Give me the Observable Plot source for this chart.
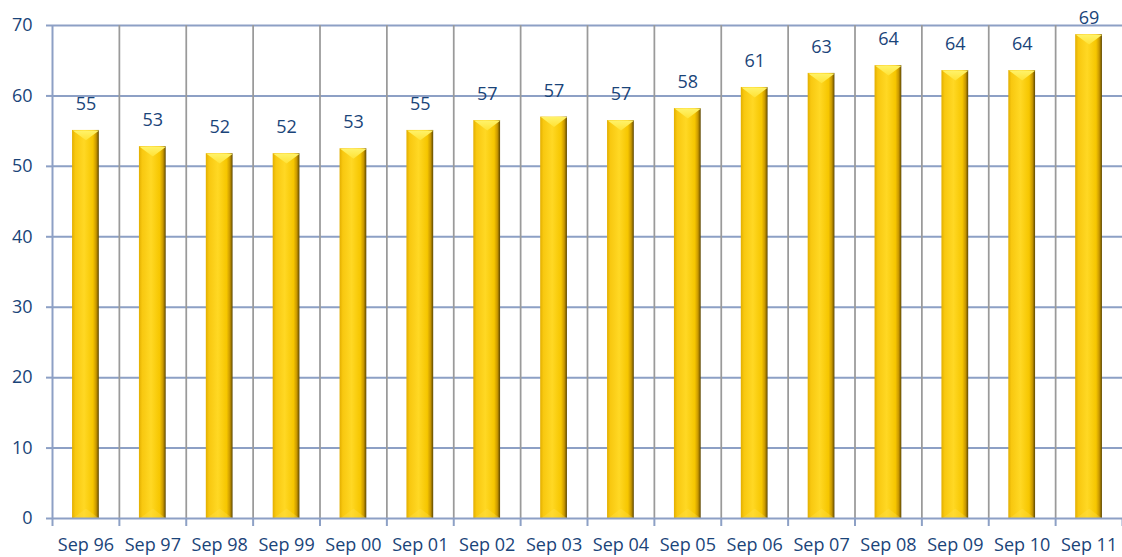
<!DOCTYPE html>
<html>
<head>
<meta charset="utf-8">
<script src="https://cdn.jsdelivr.net/npm/d3@7"></script>
<script src="https://cdn.jsdelivr.net/npm/@observablehq/plot@0.6"></script>
<style>
  html, body { margin: 0; padding: 0; background: #fff; }
</style>
</head>
<body>
<div id="chart"></div>
<script>
const categories = ["Sep 96","Sep 97","Sep 98","Sep 99","Sep 00","Sep 01","Sep 02","Sep 03","Sep 04","Sep 05","Sep 06","Sep 07","Sep 08","Sep 09","Sep 10","Sep 11"];
const values = [55.1, 52.8, 51.8, 51.8, 52.5, 55.1, 56.5, 57.0, 56.5, 58.2, 61.2, 63.2, 64.3, 63.6, 63.6, 68.7];
const yTicks = [0, 10, 20, 30, 40, 50, 60, 70];

const data = categories.map((c, i) => ({c, i, v: values[i]}));
const boundaries = categories.map((c, i) => i).concat([categories.length]);
const centers = categories.map((c, i) => i + 0.5);

const BLUE = "#8DA0C5";
const GRAY = "#9A9A9A";
const TEXT = "#1A4479";

const topBevel = {
  draw(context, size) {
    const h = Math.sqrt(size / Math.PI);
    context.moveTo(-h, 0);
    context.lineTo(h, 0);
    context.lineTo(0, h * 0.75);
    context.closePath();
  }
};
const bottomBevel = {
  draw(context, size) {
    const h = Math.sqrt(size / Math.PI);
    context.moveTo(-h, 0);
    context.lineTo(h, 0);
    context.lineTo(0, -h * 0.75);
    context.closePath();
  }
};

const chart = Plot.plot({
  width: 1122,
  height: 557,
  marginLeft: 52,
  marginRight: 0,
  marginTop: 25,
  marginBottom: 39,
  style: {fontFamily: "Open Sans", fontSize: "18px", background: "white", overflow: "visible"},
  x: {type: "linear", domain: [0, categories.length]},
  y: {domain: [0, 70]},
  marks: [
    Plot.ruleY(yTicks.slice(1), {stroke: BLUE, strokeWidth: 2}),
    Plot.ruleX(boundaries.slice(1, -1), {stroke: GRAY, strokeWidth: 1.75}),
    Plot.axisY({ticks: yTicks, tickSize: 6, tickPadding: 14, stroke: BLUE, strokeWidth: 2, fill: TEXT, fontSize: 18, label: null}),
    Plot.axisX({ticks: boundaries, tickSize: 8, tickFormat: () => "", stroke: BLUE, strokeWidth: 2, label: null}),
    Plot.axisX({ticks: centers, tickSize: 0, tickPadding: 20, tickFormat: d => categories[Math.floor(d)], fill: TEXT, fontSize: 18, label: null}),
    Plot.ruleX([0], {stroke: BLUE, strokeWidth: 2}),
    Plot.rectY(data, {x1: d => d.i + 0.3, x2: d => d.i + 0.7, y1: 0, y2: "v", fill: "url(#goldGrad)"}),
    Plot.dot(data, {x: d => d.i + 0.5, y: "v", symbol: topBevel, r: 13.2, fill: "url(#bevelGrad)", stroke: "none"}),
    Plot.dot(data, {x: d => d.i + 0.5, y: 0, symbol: bottomBevel, r: 13.2, fill: "#FFE04A", fillOpacity: 0.35, stroke: "none"}),
    Plot.ruleY([0], {stroke: BLUE, strokeWidth: 2}),
    Plot.text(data, {x: d => d.i + 0.5, y: d => Math.min(d.v + 3.7, 71), text: d => String(Math.round(d.v)), fill: TEXT, fontSize: 18})
  ]
});

const defs = d3.select(chart).insert("defs", ":first-child");
const g = defs.append("linearGradient").attr("id", "goldGrad").attr("x1", "0").attr("x2", "1").attr("y1", "0").attr("y2", "0");
[[0, "#E2AE00"], [0.12, "#F8C810"], [0.45, "#FFD824"], [0.78, "#F6C600"], [0.9, "#C99800"], [0.97, "#7E6000"], [1, "#5A4400"]]
  .forEach(([o, c]) => g.append("stop").attr("offset", o).attr("stop-color", c));
const b = defs.append("linearGradient").attr("id", "bevelGrad").attr("x1", "0").attr("x2", "0").attr("y1", "0").attr("y2", "1");
[[0, "#FFF36A"], [1, "#FFE236"]]
  .forEach(([o, c]) => b.append("stop").attr("offset", o).attr("stop-color", c));

document.getElementById("chart").appendChild(chart);
</script>
</body>
</html>
